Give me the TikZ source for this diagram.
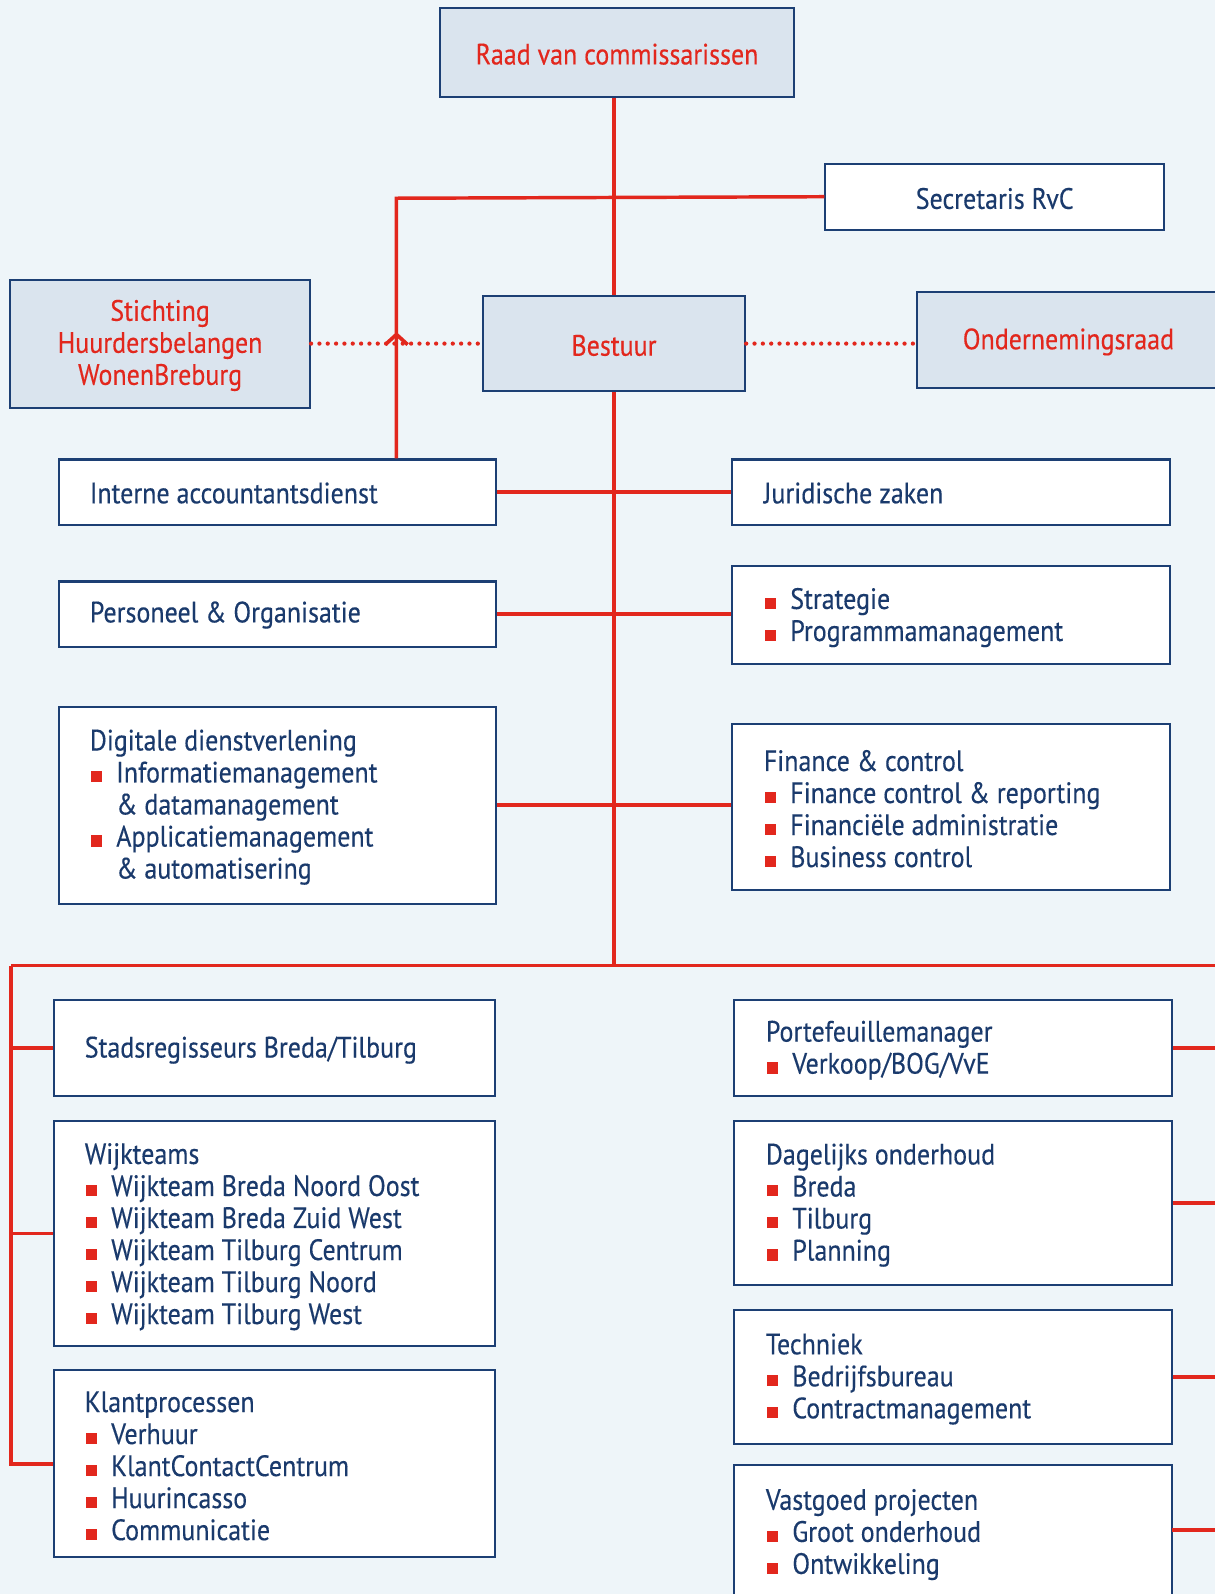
\documentclass[tikz,border=0pt]{standalone}
\usepackage{fontspec}
\setmainfont{PT Sans}[FakeStretch=0.882,FakeBold=0.3]
\definecolor{cbg}{HTML}{EEF5F9}
\definecolor{cfill}{HTML}{DAE4EE}
\definecolor{cnavy}{HTML}{1C3F74}
\definecolor{ctext}{HTML}{1A3A6C}
\definecolor{cred}{HTML}{E2271D}
\newcommand{\bu}{\makebox[13pt][l]{\hspace{0.5pt}\textcolor{cred}{\rule{5.5pt}{5.5pt}}}}
\newcommand{\ind}{\makebox[13pt]{}}
\tikzset{
  boxw/.style={draw=cnavy, line width=1pt, fill=white, inner sep=0pt},
  boxk/.style={draw=cnavy, line width=1pt, fill=cfill, inner sep=0pt},
  txt/.style={inner sep=0pt, anchor=west, align=left, text=ctext, yshift=-0.5pt, font=\fontsize{14.5}{15.75}\selectfont},
  ctxt/.style={inner sep=0pt, align=center, text=ctext, yshift=-0.9pt, font=\fontsize{14.5}{15.75}\selectfont},
  rtxt/.style={ctxt, text=cred},
  redline/.style={draw=cred, line width=1.7pt},
  dotline/.style={draw=cred, line width=2.1pt, line cap=round, dash pattern=on 0pt off 4.1pt},
}
\begin{document}
\begin{tikzpicture}[x=0.5pt,y=-0.5pt]
\fill[cbg] (0,0) rectangle (1195,1568);
\clip (0,0) rectangle (1195,1568);
\useasboundingbox (0,0) rectangle (1195,1568);

% coordinates for connectors
\coordinate (iaup) at (390,195);
\coordinate (busL) at (11,950);
\coordinate (busC) at (604,950);
\coordinate (busR) at (1200,950);
\coordinate (vs) at (1153,1505);
\coordinate (chev) at (390,329);

% boxes
\node[boxk, minimum width=174pt, minimum height=43.5pt] (raad) at (607,51.5) {};
\node[boxw, minimum width=166.5pt, minimum height=32.5pt] (secr) at (978.5,193.5) {};
\node[boxk, minimum width=147.5pt, minimum height=63pt] (sticht) at (157.5,338) {};
\node[boxk, minimum width=129pt, minimum height=47pt] (bestuur) at (604,338) {};
\node[boxk, minimum width=149pt, minimum height=47.5pt] (or) at (1051,334.5) {};

\node[boxw, minimum width=215pt, minimum height=32pt] (interne) at (273,484) {};
\node[boxw, minimum width=215.5pt, minimum height=32pt] (jur) at (935.5,484) {};
\node[boxw, minimum width=215pt, minimum height=32pt] (pers) at (273,604) {};
\node[boxw, minimum width=215.5pt, minimum height=48pt] (strat) at (935.5,605) {};
\node[boxw, minimum width=215pt, minimum height=97pt] (dig) at (273,792) {};
\node[boxw, minimum width=215.5pt, minimum height=81.5pt] (fin) at (935.5,793.5) {};

\node[boxw, minimum width=217pt, minimum height=47pt] (stads) at (270,1031) {};
\node[boxw, minimum width=217pt, minimum height=110.5pt] (wijk) at (270,1213.5) {};
\node[boxw, minimum width=217pt, minimum height=92pt] (klant) at (270,1440) {};
\node[boxw, minimum width=215.5pt, minimum height=47pt] (port) at (937.5,1031) {};
\node[boxw, minimum width=215.5pt, minimum height=80.5pt] (dag) at (937.5,1183.5) {};
\node[boxw, minimum width=215.5pt, minimum height=65.5pt] (tech) at (937.5,1354.5) {};
\node[boxw, minimum width=215.5pt, minimum height=79.5pt] (vast) at (937.5,1520.5) {};

% connectors
\draw[redline] (bestuur.north |- raad.south) -- (bestuur.north);
\draw[redline] (secr.west) -- (iaup) -- (iaup |- interne.north);
\draw[redline] (bestuur.south) -- (busC);
\draw[redline] (interne.east) -- (jur.west);
\draw[redline] (pers.east) -- (pers.east -| strat.west);
\draw[redline] (dig.east) -- (dig.east -| fin.west);
\draw[redline] (busL) -- (busR);
\draw[redline] (busL) -- (busL |- klant.west) -- (klant.west);
\draw[redline] (busL |- stads.west) -- (stads.west);
\draw[redline] (busL |- wijk.west) -- (wijk.west);
\draw[redline] (port.east) -- (port.east -| busR);
\draw[redline] (dag.east) -- (dag.east -| busR);
\draw[redline] (tech.east) -- (tech.east -| busR);
\draw[redline] (vs) -- (vs -| busR);
\draw[dotline] (sticht.east) -- (bestuur.west);
\draw[dotline] (bestuur.east) -- (bestuur.east -| or.west);
\draw[redline, line width=1.8pt] ([shift={(-11,10)}]chev) -- (chev) -- ([shift={(11,10)}]chev);

% texts
\node[rtxt] (raad-t) at (raad.center) {Raad van commissarissen};
\node[rtxt] (sticht-t) at (sticht.center) {Stichting\\Huurdersbelangen\\WonenBreburg};
\node[rtxt] (bestuur-t) at (bestuur.center) {Bestuur};
\node[rtxt] (or-t) at (or.center) {Ondernemingsraad};
\node[ctxt] (secr-t) at (secr.center) {Secretaris RvC};
\node[txt] (interne-t) at (88,484) {Interne accountantsdienst};
\node[txt] (jur-t) at (751,484) {Juridische zaken};
\node[txt] (pers-t) at (88,604) {Personeel \& Organisatie};
\node[txt] (strat-t) at (751,606.5) {\bu Strategie\\\bu Programmamanagement};
\node[txt] (dig-t) at (88,793) {Digitale dienstverlening\\\bu Informatiemanagement\\\ind\& datamanagement\\\bu Applicatiemanagement\\\ind\& automatisering};
\node[txt] (fin-t) at (751,794.5) {Finance \& control\\\bu Finance control \& reporting\\\bu Financiële administratie\\\bu Business control};
\node[txt] (stads-t) at (83,1032) {Stadsregisseurs Breda/Tilburg};
\node[txt] (wijk-t) at (83,1215.5) {Wijkteams\\\bu Wijkteam Breda Noord Oost\\\bu Wijkteam Breda Zuid West\\\bu Wijkteam Tilburg Centrum\\\bu Wijkteam Tilburg Noord\\\bu Wijkteam Tilburg West};
\node[txt] (klant-t) at (83,1441) {Klantprocessen\\\bu Verhuur\\\bu KlantContactCentrum\\\bu Huurincasso\\\bu Communicatie};
\node[txt] (port-t) at (753,1032) {Portefeuillemanager\\\bu Verkoop/BOG/VvE};
\node[txt] (dag-t) at (753,1184.5) {Dagelijks onderhoud\\\bu Breda\\\bu Tilburg\\\bu Planning};
\node[txt] (tech-t) at (753,1355.5) {Techniek\\\bu Bedrijfsbureau\\\bu Contractmanagement};
\node[txt] (vast-t) at (753,1508.5) {Vastgoed projecten\\\bu Groot onderhoud\\\bu Ontwikkeling};
\end{tikzpicture}
\end{document}
